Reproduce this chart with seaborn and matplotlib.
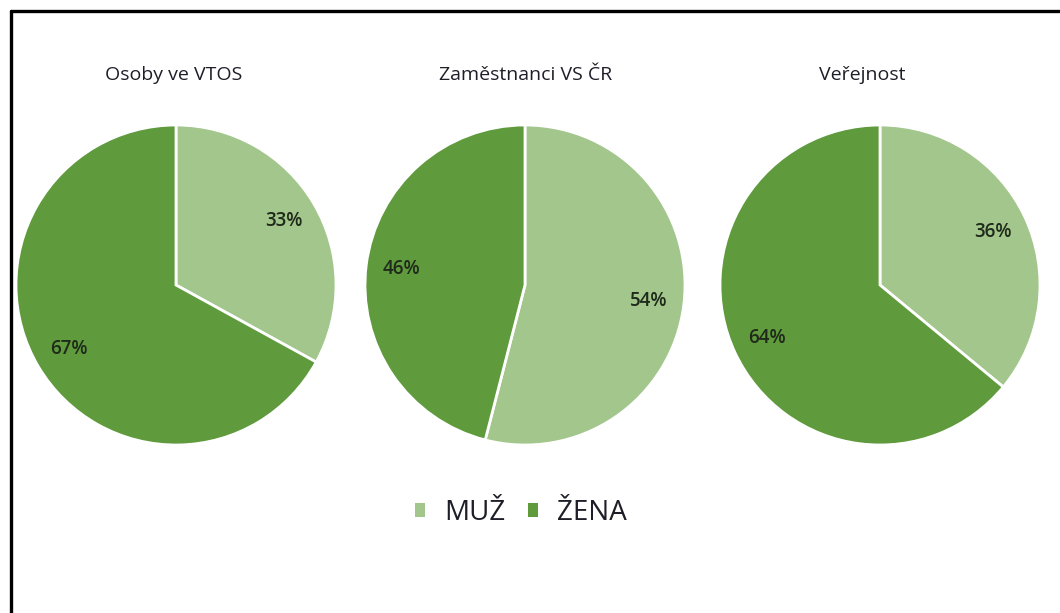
import numpy as np
import seaborn as sns
import matplotlib.pyplot as plt
from matplotlib.patches import Patch
from matplotlib.lines import Line2D

# data
groups = ['Osoby ve VTOS', 'Zaměstnanci VS ČR', 'Veřejnost']
categories = ['MUŽ', 'ŽENA']
muz = [33, 54, 36]
zena = [67, 46, 64]

sns.set_theme(style='white')
plt.rcParams['font.family'] = ['Open Sans', 'DejaVu Sans']

palette = ['#a2c68b', '#5f9a3d']

W, H = 1060, 613
fig = plt.figure(figsize=(W / 100, H / 100), dpi=100)

# pie centres in pixels (x, y from top), radius in px
centres = [(176, 285), (525, 285), (880, 285)]
title_x = [174, 526, 862]
R = 160
pad = 1.03

for i, (cx, cy) in enumerate(centres):
    half = R * pad
    ax = fig.add_axes([(cx - half) / W, (H - cy - half) / H, 2 * half / W, 2 * half / H])
    vals = [muz[i], zena[i]]
    wedges, texts, autotexts = ax.pie(
        vals, colors=palette, startangle=90, counterclock=False,
        autopct='%d%%', pctdistance=0.78,
        wedgeprops=dict(edgecolor='white', linewidth=2),
        textprops=dict(fontsize=13.5, color='#1f2a1a', fontweight='semibold'))
    ax.set_xlim(-pad, pad)
    ax.set_ylim(-pad, pad)
    ax.set_aspect('equal')
    ax.axis('off')
    fig.text(title_x[i] / W, 1 - 75 / H, groups[i], ha='center', va='center',
             fontsize=14, color='#1e1e28')

# legend
handles = [Patch(facecolor=c, edgecolor='none', label=l) for c, l in zip(palette, categories)]
fig.legend(handles=handles, loc='center', bbox_to_anchor=(521 / W, 1 - 513 / H),
           ncol=2, frameon=False, fontsize=20, handlelength=0.35, handleheight=0.35,
           handletextpad=0.7, columnspacing=0.8, labelcolor='#1e1e28')

# partial frame (top and left)
fig.add_artist(Line2D([11 / W, 1], [1 - 11 / H, 1 - 11 / H], color='black', lw=2.4,
                      transform=fig.transFigure))
fig.add_artist(Line2D([11 / W, 11 / W], [0, 1 - 11 / H], color='black', lw=2.4,
                      transform=fig.transFigure))

fig.savefig('out.png', dpi=100, facecolor='white')
